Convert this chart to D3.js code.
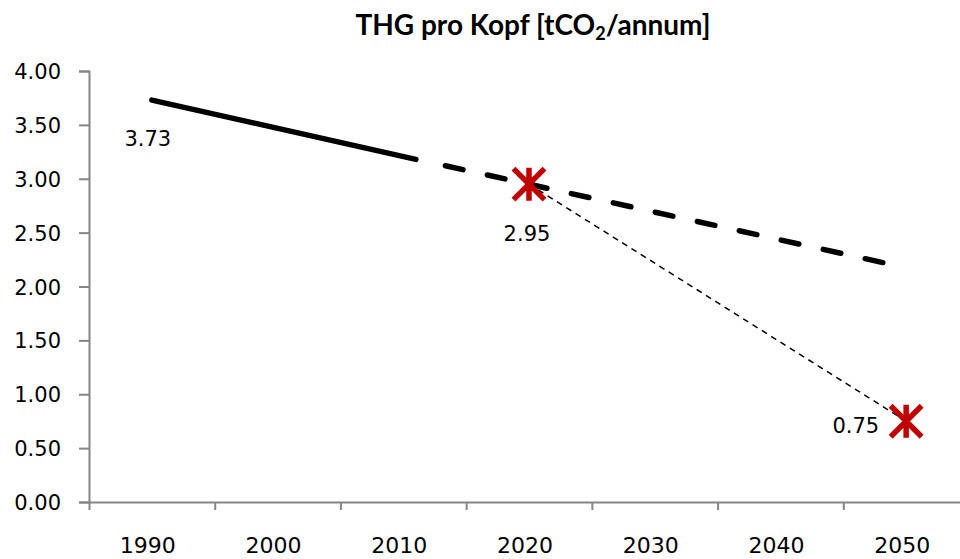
<!DOCTYPE html>
<html>
<head>
<meta charset="utf-8">
<script src="https://cdn.jsdelivr.net/npm/d3@7"></script>
<style>
  body { margin: 0; background: #fff; }
</style>
</head>
<body>
<div id="chart-area"></div>
<script>
// tick labels / axis values
var yearLabels = [1990, 2000, 2010, 2020, 2030, 2040, 2050];
var yTicks = [0, 0.5, 1, 1.5, 2, 2.5, 3, 3.5, 4];

// measured history (solid)
var histYears = [1990, 2011];
var histValues = [3.73, 3.18];

// trend continuation (thick dashed)
var trendYears = [2013, 2049];
var trendValues = [3.13, 2.20];

// target path (thin dashed + red markers)
var targetYears = [2020, 2050];
var targetValues = [2.95, 0.75];

var width = 960, height = 559;
var labelFont = "'DejaVu Sans', Verdana, sans-serif";

var svg = d3.select("#chart-area").append("svg")
  .attr("width", width)
  .attr("height", height);

// one band of 10 years per label, ticks sit between the labels
var x = d3.scaleLinear()
  .domain([1985, 2055])
  .range([89, 969]);

var y = d3.scaleLinear()
  .domain([0, 4])
  .range([502, 71]);

// title
var title = svg.append("text")
  .attr("x", 533)
  .attr("y", 35)
  .style("font-family", "Lato, 'Open Sans', sans-serif")
  .style("font-weight", "bold")
  .style("font-size", "28px")
  .style("text-anchor", "middle");
title.append("tspan").text("THG pro Kopf [tCO");
title.append("tspan").attr("baseline-shift", "-25%").style("font-size", "18px").text("2");
title.append("tspan").text("/annum]");

// y axis
var yAxis = d3.axisLeft(y)
  .tickValues(yTicks)
  .tickSize(10)
  .tickPadding(18)
  .tickFormat(d3.format(".2f"));

var gy = svg.append("g")
  .attr("transform", "translate(" + x(1985) + ",0)")
  .call(yAxis);
gy.select(".domain").attr("stroke", "#868686").attr("stroke-width", 2);
gy.selectAll(".tick line").attr("stroke", "#868686").attr("stroke-width", 2);
gy.selectAll(".tick text")
  .attr("dy", "0.36em")
  .style("font-family", labelFont)
  .style("font-size", "21px")
  .style("fill", "#000");

// x axis: tick marks every 10 years at band edges
var xAxis = d3.axisBottom(x)
  .tickValues(d3.range(1985, 2056, 10))
  .tickSize(8)
  .tickSizeOuter(0)
  .tickFormat("");

var gx = svg.append("g")
  .attr("transform", "translate(0," + y(0) + ")")
  .call(xAxis);
gx.select(".domain").attr("stroke", "#868686").attr("stroke-width", 2);
gx.selectAll(".tick line").attr("stroke", "#868686").attr("stroke-width", 2);

svg.selectAll("text.yearLabel")
  .data(yearLabels)
  .enter()
  .append("text")
  .attr("class", "yearLabel")
  .attr("x", d => x(d) - 4)
  .attr("y", 553)
  .style("font-family", labelFont)
  .style("font-size", "22px")
  .style("text-anchor", "middle")
  .text(d => d);

var line = d3.line()
  .x(d => x(d[0]))
  .y(d => y(d[1]));

// solid history line
svg.append("path")
  .datum(d3.zip(histYears, histValues))
  .attr("d", line)
  .attr("fill", "none")
  .attr("stroke", "#000")
  .attr("stroke-width", 5.5)
  .attr("stroke-linecap", "round");

// thick dashed trend
svg.append("path")
  .datum(d3.zip(trendYears, trendValues))
  .attr("d", line)
  .attr("fill", "none")
  .attr("stroke", "#000")
  .attr("stroke-width", 5.5)
  .attr("stroke-linecap", "round")
  .attr("stroke-dasharray", "18,25")
  .attr("stroke-dashoffset", -4.5);

// thin dashed target line
svg.append("path")
  .datum(d3.zip(targetYears, targetValues))
  .attr("d", line)
  .attr("fill", "none")
  .attr("stroke", "#000")
  .attr("stroke-width", 1.5)
  .attr("stroke-dasharray", "6,5");

// star markers (X plus vertical bar)
var h = 15.5;
svg.selectAll("path.marker")
  .data(d3.zip(targetYears, targetValues))
  .enter()
  .append("path")
  .attr("class", "marker")
  .attr("transform", d => "translate(" + x(d[0]) + "," + y(d[1]) + ")")
  .attr("d", "M" + (-h) + "," + (-h) + "L" + h + "," + h +
             "M" + (-h) + "," + h + "L" + h + "," + (-h) +
             "M0," + (-h - 1) + "L0," + (h + 1))
  .attr("fill", "none")
  .attr("stroke", "#c00000")
  .attr("stroke-width", 5.5);

// data labels
function dataLabel(px, py, anchor, v) {
  svg.append("text")
    .attr("x", px)
    .attr("y", py)
    .style("font-family", labelFont)
    .style("font-size", "21px")
    .style("text-anchor", anchor)
    .text(d3.format(".2f")(v));
}
dataLabel(x(histYears[0]) - 4, y(histValues[0]) + 46, "middle", histValues[0]);
dataLabel(x(targetYears[0]) - 2, y(targetValues[0]) + 57, "middle", targetValues[0]);
dataLabel(x(targetYears[1]) - 27, y(targetValues[1]) + 12, "end", targetValues[1]);
</script>
</body>
</html>
